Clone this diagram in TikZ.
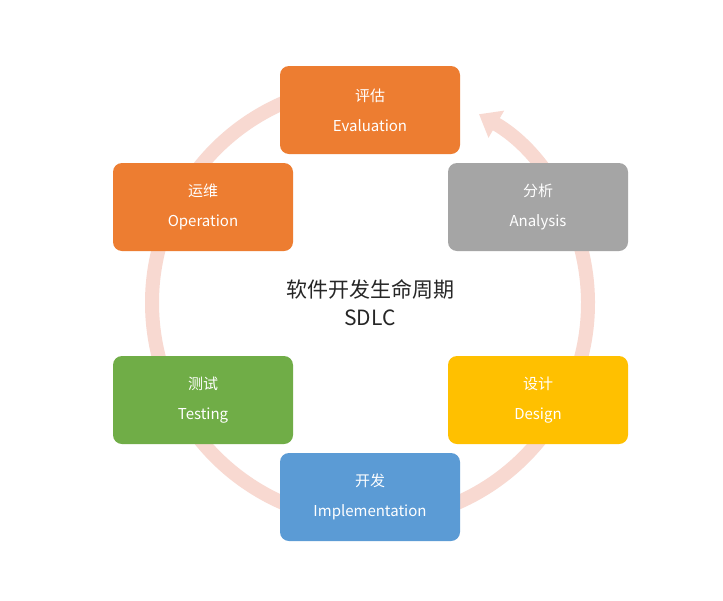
\documentclass[tikz,border=0pt]{standalone}
\usepackage{fontspec}
\setmainfont{Noto Sans CJK SC}
\usetikzlibrary{arrows.meta}
\definecolor{ringpink}{HTML}{F8D9D1}
\definecolor{phaseorange}{HTML}{ED7D31}
\definecolor{phasegray}{HTML}{A5A5A5}
\definecolor{phaseyellow}{HTML}{FFC000}
\definecolor{phaseblue}{HTML}{5B9BD5}
\definecolor{phasegreen}{HTML}{70AD47}
\tikzset{
  phase/.style={rounded corners=9pt, minimum width=180pt, minimum height=88pt,
    text=white, align=center, font=\fontsize{15}{30}\selectfont, inner sep=0pt},
}
\begin{document}
\begin{tikzpicture}[x=1pt,y=-1pt]
  \useasboundingbox[fill=white] (0,0) rectangle (723,600);

  % Ring behind the phases
  \draw[ringpink, line width=14pt, -{Triangle[width=30pt,length=20pt]}]
    (370,303) ++(85:-218) arc[start angle=-95, end angle=-420, radius=218];

  % Phases
  \node[phase, fill=phaseorange] (eval) at (370,110) {评估\\Evaluation};
  \node[phase, fill=phasegray] (anal) at (538,207) {分析\\Analysis};
  \node[phase, fill=phaseyellow] (design) at (538,400) {设计\\Design};
  \node[phase, fill=phaseblue] (impl) at (370,497) {开发\\Implementation};
  \node[phase, fill=phasegreen] (test) at (203,400) {测试\\Testing};
  \node[phase, fill=phaseorange] (oper) at (203,207) {运维\\Operation};

  % Title
  \node[align=center, font=\fontsize{21}{28}\selectfont, text=black!85] (title) at (370,303)
    {软件开发生命周期\\SDLC};
\end{tikzpicture}
\end{document}
